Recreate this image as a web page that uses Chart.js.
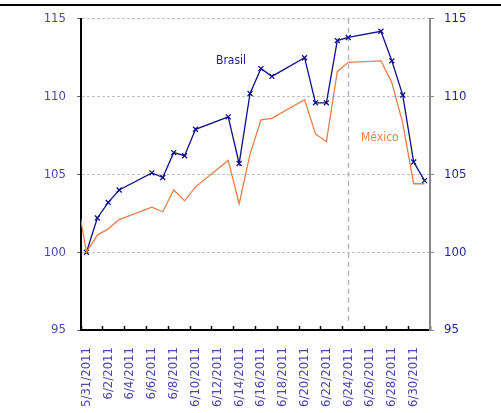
<!DOCTYPE html>
<html>
<head>
<meta charset="utf-8">
<script src="https://cdn.jsdelivr.net/npm/chart.js@4.4.1/dist/chart.umd.min.js"></script>
<style>
  body { margin: 0; background: #fff; }
  #wrap { position: relative; width: 501px; height: 413px; overflow: hidden; }
  #myChart { position: absolute; left: 0; top: 0; }
  #topRule { position: absolute; left: 0; top: 4px; width: 501px; height: 2px; background: #000; }
</style>
</head>
<body>
<div id="wrap">
  <canvas id="myChart" width="501" height="413"></canvas>
  <div id="topRule"></div>
</div>
<script>
// Trading days shown for Brasil (index, base 100 on 5/31)
const tradingDays = ["5/31/2011", "6/1/2011", "6/2/2011", "6/3/2011", "6/6/2011", "6/7/2011",
  "6/8/2011", "6/9/2011", "6/10/2011", "6/13/2011", "6/14/2011", "6/15/2011", "6/16/2011",
  "6/17/2011", "6/20/2011", "6/21/2011", "6/22/2011", "6/23/2011", "6/24/2011", "6/27/2011",
  "6/28/2011", "6/29/2011", "6/30/2011", "7/1/2011"];
const brasil = [100.0, 102.2, 103.2, 104.0, 105.1, 104.8, 106.4, 106.2, 107.9, 108.7, 105.7,
  110.2, 111.8, 111.3, 112.5, 109.6, 109.6, 113.6, 113.8, 114.2, 112.3, 110.1, 105.8, 104.6];

// Mexico has one extra day before the axis starts (clipped at the left edge)
const mexicoDays = ["5/30/2011"].concat(tradingDays);
const mexico = [104.0, 100.0, 101.1, 101.5, 102.1, 102.9, 102.6, 104.0, 103.3, 104.2, 105.9,
  103.1, 106.3, 108.5, 108.6, 109.8, 107.6, 107.1, 111.6, 112.2, 112.3, 110.9, 108.3, 104.4, 104.4];

// Category labels under the axis (every second day)
const tickLabels = ["5/31/2011", "6/2/2011", "6/4/2011", "6/6/2011", "6/8/2011", "6/10/2011",
  "6/12/2011", "6/14/2011", "6/16/2011", "6/18/2011", "6/20/2011", "6/22/2011", "6/24/2011",
  "6/26/2011", "6/28/2011", "6/30/2011"];
const axisEnd = "7/2/2011";
const markerDay = "6/24/2011";
const yTicks = [95, 100, 105, 110, 115];

// Convert a date string to a day number counted from the first label
const firstDay = new Date(tickLabels[0]);
function dayIndex(s) {
  return Math.round((new Date(s) - firstDay) / 864e5);
}

// Each day owns the slot [d, d+1]; points sit in the middle of the slot
function toPoints(days, values) {
  return days.map((d, i) => ({ x: dayIndex(d) + 0.5, y: values[i] }));
}

const labelByDay = {};
tickLabels.forEach(l => { labelByDay[dayIndex(l)] = l; });
const tickValues = tickLabels.map(dayIndex).concat([dayIndex(axisEnd)]);

const axisFont = { family: "'DejaVu Sans Condensed', 'DejaVu Sans'", size: 13 };

// Dashed vertical marker plus the series names inside the plot
const extras = {
  id: 'extras',
  beforeDatasetsDraw(chart) {
    const { ctx, chartArea, scales } = chart;
    const x = Math.round(scales.x.getPixelForValue(dayIndex(markerDay) + 0.5)) + 0.5;
    ctx.save();
    ctx.strokeStyle = '#b4b4b4';
    ctx.lineWidth = 1.5;
    ctx.setLineDash([5, 4]);
    ctx.beginPath();
    ctx.moveTo(x, chartArea.top);
    ctx.lineTo(x, chartArea.bottom - 5);
    ctx.stroke();
    ctx.restore();
  },
  afterDatasetsDraw(chart) {
    const { ctx, scales } = chart;
    ctx.save();
    ctx.font = "12px 'DejaVu Sans Condensed', 'DejaVu Sans'";
    ctx.textAlign = 'center';
    ctx.textBaseline = 'middle';
    ctx.fillStyle = '#1c1c8c';
    ctx.fillText('Brasil', scales.x.getPixelForValue(13.76), scales.y.getPixelForValue(112.27));
    ctx.fillStyle = '#e8844c';
    ctx.fillText('México', scales.x.getPixelForValue(27.4), scales.y.getPixelForValue(107.33));
    ctx.restore();
  }
};

new Chart(document.getElementById('myChart'), {
  type: 'line',
  data: {
    datasets: [
      {
        label: 'México',
        data: toPoints(mexicoDays, mexico),
        borderColor: '#e8804a',
        borderWidth: 1.3,
        pointRadius: 0,
        tension: 0
      },
      {
        label: 'Brasil',
        data: toPoints(tradingDays, brasil),
        borderColor: '#10108a',
        borderWidth: 1.3,
        pointStyle: 'crossRot',
        pointRadius: 3.5,
        pointBorderColor: '#10108a',
        pointBorderWidth: 1.3,
        tension: 0
      }
    ]
  },
  options: {
    responsive: false,
    animation: false,
    layout: { padding: { top: 18, left: 0, right: 0, bottom: 0 } },
    plugins: {
      legend: { display: false },
      tooltip: { enabled: false }
    },
    scales: {
      x: {
        type: 'linear',
        min: dayIndex(tickLabels[0]),
        max: dayIndex(axisEnd),
        afterBuildTicks: s => { s.ticks = tickValues.map(v => ({ value: v })); },
        afterFit: s => { s.height = 83; },
        grid: { drawOnChartArea: false, drawTicks: true, tickLength: -4, tickColor: '#000', tickWidth: 1.5 },
        border: { color: '#000', width: 2 },
        ticks: {
          autoSkip: false,
          minRotation: 90,
          maxRotation: 90,
          labelOffset: 5.45,
          padding: 21,
          color: '#4b4bac',
          font: axisFont,
          callback: v => labelByDay[v] || ''
        }
      },
      y: {
        position: 'left',
        min: yTicks[0],
        max: yTicks[yTicks.length - 1],
        afterBuildTicks: s => { s.ticks = yTicks.map(v => ({ value: v })); },
        afterFit: s => { s.width = 81; },
        grid: {
          color: c => (c.tick && c.tick.value === yTicks[0]) ? 'rgba(0,0,0,0)' : '#c4c4c4',
          lineWidth: 1,
          tickLength: 4,
          tickColor: '#666',
          tickBorderDash: []
        },
        border: { color: '#000', width: 2, dash: [3, 2] },
        ticks: { color: '#4b4bac', font: axisFont, padding: 11 }
      },
      y2: {
        position: 'right',
        min: yTicks[0],
        max: yTicks[yTicks.length - 1],
        afterBuildTicks: s => { s.ticks = yTicks.map(v => ({ value: v })); },
        afterFit: s => { s.width = 71; },
        grid: { drawOnChartArea: false, tickLength: 4, tickColor: '#888' },
        border: { color: '#888', width: 2 },
        ticks: { color: '#25259a', font: axisFont, padding: 10 }
      }
    }
  },
  plugins: [extras]
});
</script>
</body>
</html>
